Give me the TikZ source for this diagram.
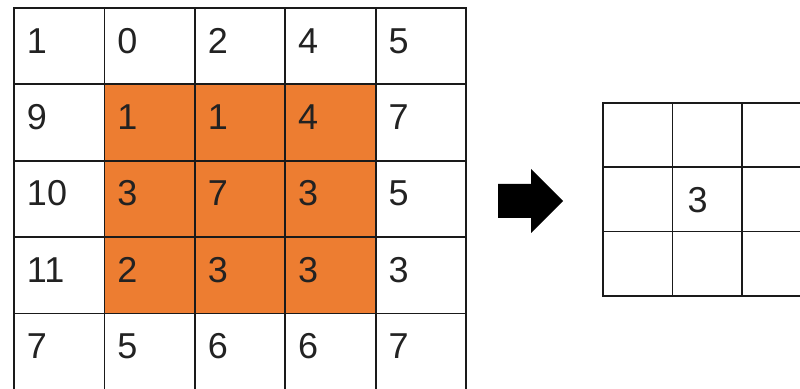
\documentclass[tikz,border=0pt]{standalone}
\usepackage{fontspec}
\setmainfont{Liberation Sans}
\usetikzlibrary{positioning}
\definecolor{KernelOrange}{HTML}{ED7D31}
\definecolor{GridInk}{HTML}{1A1A1A}
\definecolor{DigitInk}{HTML}{222222}
\tikzset{
  cell/.style={draw=GridInk,line width=1.8pt,outer sep=0pt,
    minimum width=90.4pt,minimum height=76.4pt,inner xsep=13pt,inner ysep=0pt,
    text width=64.4pt,align=left,text height=26pt,text depth=12pt,
    text=DigitInk,font=\fontsize{36}{40}\selectfont},
  outcell/.style={cell,minimum width=69.5pt,minimum height=64.3pt,
    inner xsep=15pt,text width=39.5pt,text depth=0pt},
  blockarrow/.style={fill=black}
}

\begin{document}
\begin{tikzpicture}[x=1pt,y=1pt]
  \useasboundingbox (0,0) rectangle (800,388);
  % input 5x5 with the 3x3 window in orange
  \foreach \row [count=\r] in {{1,0,2,4,5},{9,1,1,4,7},{10,3,7,3,5},{11,2,3,3,3},{7,5,6,6,7}}
    \foreach \val [count=\c] in \row {
      \pgfmathtruncatemacro\hot{and(and(\r>1,\r<5),and(\c>1,\c<5))}
      \ifnum\hot=1 \def\cellfill{KernelOrange}\else\def\cellfill{none}\fi
      \node[cell,fill=\cellfill] (in-\r-\c) at (14+90.4*\c-45.2,380-76.4*\r+38.2) {\val};
    }
  % arrow
  \fill[blockarrow] (498,204) -- (531,204) -- (531,219) -- (563,187)
    -- (531,155) -- (531,170) -- (498,170) -- cycle;
  % output 3x3
  \foreach \r in {1,2,3}
    \foreach \c in {1,2,3} {
      \ifnum\r\c=22 \def\txt{3}\else\def\txt{}\fi
      \node[outcell] (out-\r-\c) at (603+69.5*\c-34.75,285-64.3*\r+32.15) {\txt};
    }
\end{tikzpicture}
\end{document}
